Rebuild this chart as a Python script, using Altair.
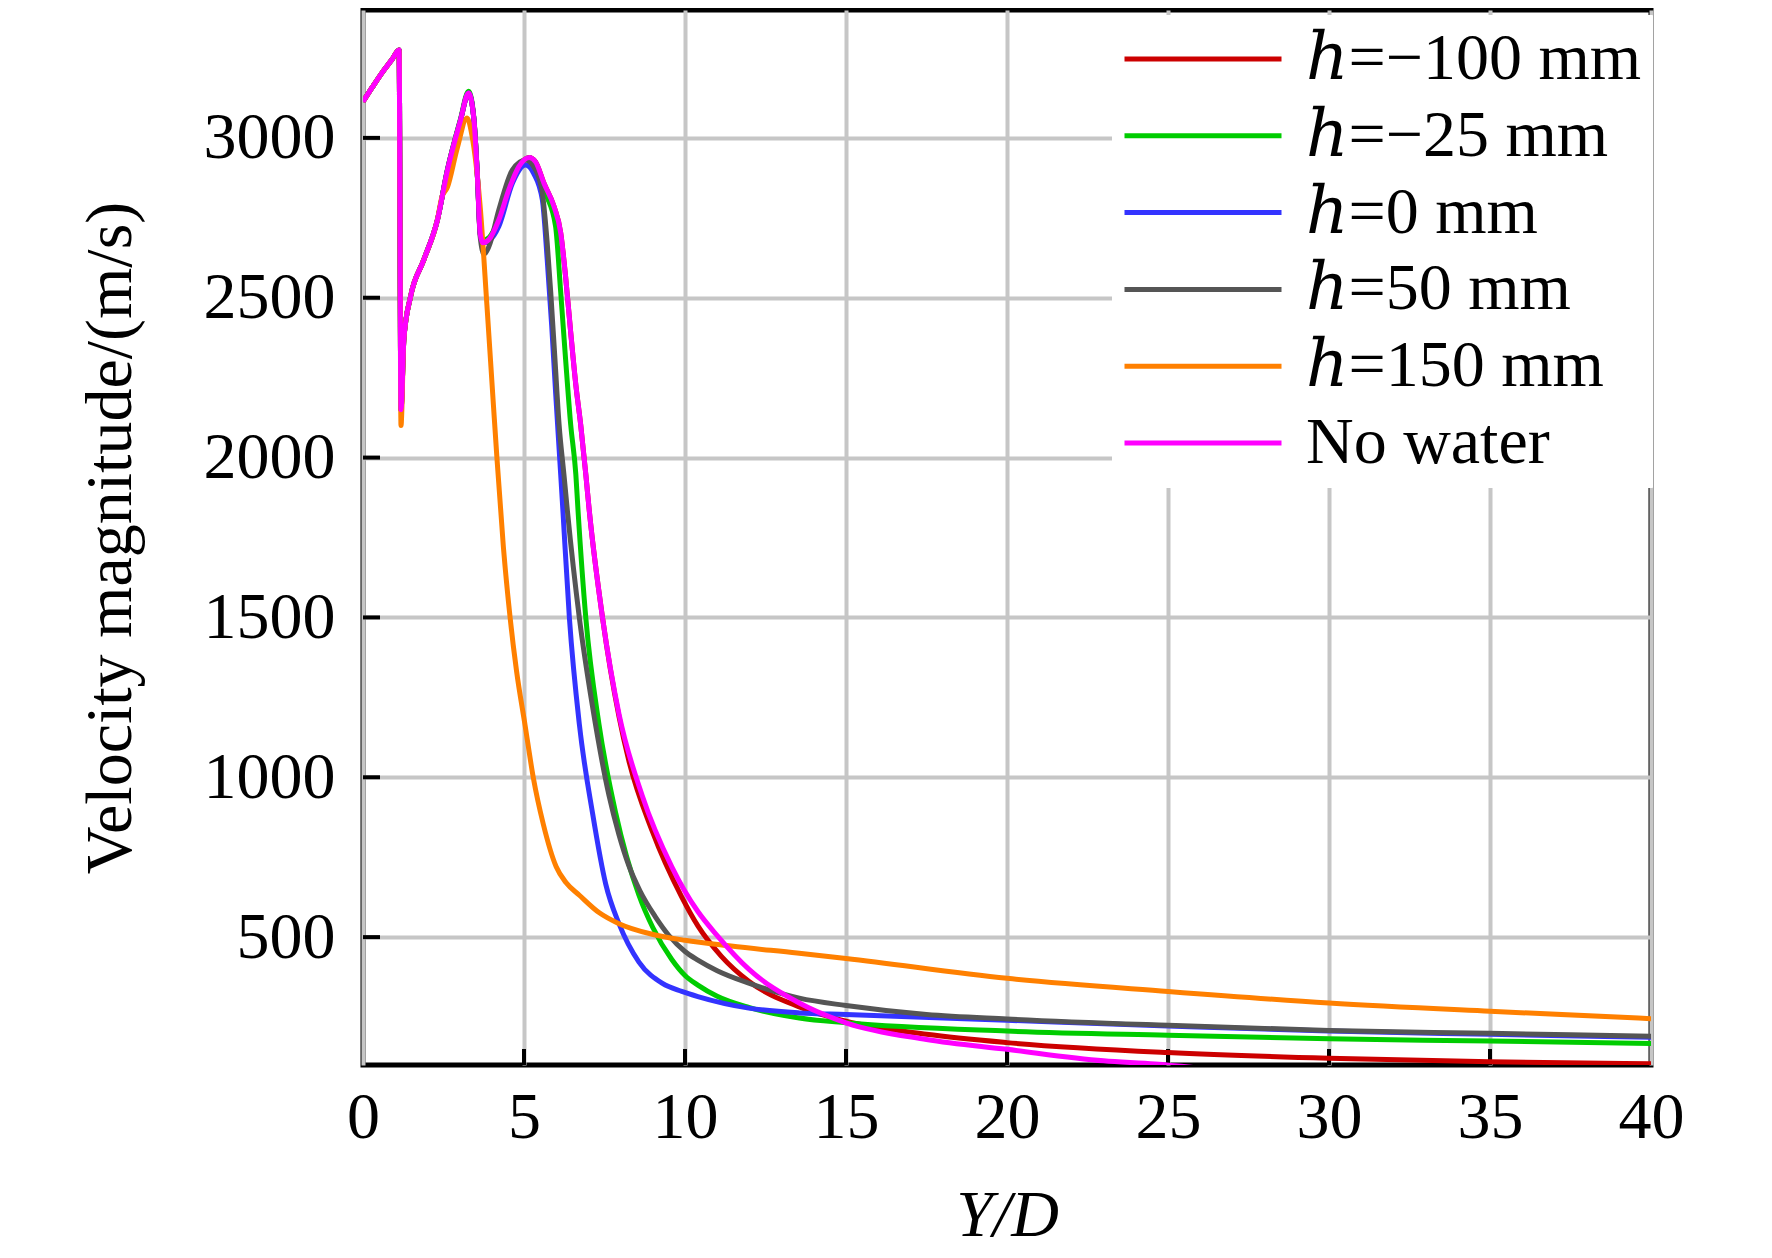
import altair as alt
import pandas as pd

SERIES = ["ℎ=−100 mm", "ℎ=−25 mm", "ℎ=0 mm", "ℎ=50 mm", "ℎ=150 mm", "No water"]
COLORS = ["#cc0000", "#00cc00", "#3333ff", "#555555", "#ff8000", "#ff00ff"]
X_TICKS = [0, 5, 10, 15, 20, 25, 30, 35, 40]
Y_TICKS = [500, 1000, 1500, 2000, 2500, 3000]
TICK_MARKS_X = [5, 10, 15, 20, 25, 30, 35]

# No water
X_NW = [0, 0.3, 0.6, 0.9, 1.12, 1.18, 1.27, 1.48, 1.89, 2.31, 2.62, 3.02, 3.28, 3.44, 3.55,
        3.64, 3.72, 3.91, 4.22, 4.53, 4.84, 5.16, 5.36, 5.62, 5.93, 6.14, 6.29, 6.45, 6.61,
        6.76, 6.92, 7.03, 7.44, 7.95, 8.67, 9.59, 10.4, 11.0, 11.98, 13.55, 15, 17.5, 20,
        23, 24.6, 26]
V_NW = [3113, 3160, 3205, 3245, 3275, 2150, 2372, 2505, 2619, 2743, 2898, 3052, 3140, 3062, 2886,
        2700, 2672, 2682, 2744, 2838, 2910, 2939, 2925, 2858, 2786, 2703, 2568, 2392, 2227,
        2103, 1947, 1831, 1498, 1198, 943, 720, 580, 505, 400, 294, 232, 180, 149,
        113, 103, 90]

# h = -100 mm
X_M100 = [0, 0.3, 0.6, 0.9, 1.12, 1.18, 1.27, 1.48, 1.89, 2.31, 2.62, 3.02, 3.28, 3.44, 3.55,
          3.64, 3.72, 3.91, 4.22, 4.53, 4.84, 5.16, 5.36, 5.62, 5.93, 6.14, 6.29, 6.45, 6.61,
          6.76, 6.92, 7.03, 7.44, 7.95, 8.25, 8.98, 9.9, 10.4, 11.13, 11.98, 13.55, 15, 17.5,
          20, 25, 30, 35, 40]
V_M100 = [3113, 3160, 3205, 3245, 3275, 2150, 2372, 2505, 2619, 2743, 2898, 3052, 3140, 3062, 2886,
          2700, 2672, 2682, 2744, 2838, 2910, 2939, 2925, 2858, 2786, 2703, 2568, 2392, 2227,
          2103, 1947, 1831, 1498, 1190, 1054, 832, 625, 535, 440, 362, 282, 237, 196,
          170, 139, 121, 110, 104]

# h = -25 mm
X_M25 = [0, 0.3, 0.6, 0.9, 1.12, 1.18, 1.27, 1.48, 1.89, 2.31, 2.62, 3.02, 3.28, 3.44, 3.55,
         3.64, 3.72, 3.91, 4.22, 4.53, 4.84, 5.16, 5.36, 5.67, 5.98, 6.14, 6.29, 6.45, 6.61,
         6.68, 6.92, 7.33, 7.85, 8.57, 9.0, 9.59, 10.0, 10.4, 11.0, 11.98, 13.55, 15, 20, 25,
         30, 35, 40]
V_M25 = [3113, 3160, 3205, 3245, 3275, 2150, 2372, 2505, 2619, 2743, 2900, 3056, 3146, 3066, 2890,
         2705, 2680, 2688, 2746, 2838, 2910, 2937, 2922, 2827, 2724, 2517, 2310, 2103, 1947,
         1831, 1498, 1165, 887, 631, 530, 430, 380, 350, 315, 280, 247, 232, 206, 193,
         182, 175, 167]

# h = 0 mm
X_0 = [0, 0.3, 0.6, 0.9, 1.12, 1.18, 1.27, 1.48, 1.89, 2.31, 2.62, 3.02, 3.28, 3.44, 3.55,
       3.64, 3.72, 3.91, 4.22, 4.64, 5.05, 5.3, 5.57, 5.72, 5.86, 5.98, 6.14, 6.21, 6.41,
       6.72, 7.13, 7.54, 7.95, 8.57, 9.3, 9.9, 10.4, 11.98, 13.55, 15, 20, 25, 30, 35, 40]
V_0 = [3113, 3160, 3205, 3245, 3275, 2150, 2372, 2505, 2619, 2743, 2898, 3052, 3140, 3062, 2886,
       2700, 2672, 2678, 2724, 2858, 2915, 2889, 2806, 2620, 2413, 2206, 1947, 1831, 1498,
       1165, 887, 665, 542, 422, 355, 330, 314, 278, 263, 258, 240, 222, 206, 196, 187]

# h = 50 mm
X_50 = [0, 0.3, 0.6, 0.9, 1.12, 1.18, 1.27, 1.48, 1.89, 2.31, 2.62, 3.02, 3.28, 3.44, 3.55,
        3.64, 3.76, 3.91, 4.22, 4.64, 5.05, 5.36, 5.57, 5.72, 5.83, 5.96, 6.09, 6.24, 6.35,
        6.72, 7.13, 7.64, 7.95, 8.25, 8.6, 9.07, 9.5, 10.0, 10.4, 11.0, 11.98, 13.55, 15,
        17.5, 20, 25, 30, 35, 40]
V_50 = [3113, 3160, 3205, 3245, 3275, 2150, 2372, 2505, 2619, 2743, 2898, 3052, 3140, 3062, 2886,
        2690, 2636, 2660, 2775, 2900, 2931, 2900, 2827, 2672, 2517, 2310, 2103, 1947, 1831,
        1498, 1220, 943, 820, 725, 645, 565, 505, 455, 428, 395, 356, 309, 286,
        258, 244, 224, 208, 199, 190]

# h = 150 mm
X_150 = [0, 0.3, 0.6, 0.9, 1.12, 1.18, 1.27, 1.48, 1.89, 2.31, 2.45, 2.62, 2.93, 3.23, 3.38,
         3.64, 3.85, 4.05, 4.16, 4.36, 4.57, 4.77, 5.03, 5.29, 5.6, 6.0, 6.31, 6.72, 7.34,
         7.95, 8.98, 10, 11.43, 13.48, 15, 20, 25, 30, 35, 40]
V_150 = [3113, 3160, 3205, 3245, 3275, 2100, 2372, 2505, 2619, 2743, 2815, 2845, 2969, 3062, 3010,
         2784, 2474, 2165, 1998, 1720, 1498, 1331, 1165, 998, 853, 720, 670, 631, 576,
         542, 509, 490, 472, 450, 433, 371, 330, 294, 268, 245]

XS = [X_M100, X_M25, X_0, X_50, X_150, X_NW]
VS = [V_M100, V_M25, V_0, V_50, V_150, V_NW]

W, H = 1288, 1055
FONT = "Liberation Serif, DejaVu Serif"

xscale = alt.Scale(domain=[0, 40], nice=False, zero=False)
yscale = alt.Scale(domain=[100, 3400], nice=False, zero=False)

xaxis = alt.Axis(values=X_TICKS, title="Y/D", titleFontStyle="italic", titleY=170,
                 titleBaseline="alphabetic", labelPadding=20, ticks=False, tickSize=0,
                 domain=False, grid=True, labelFlush=False, labelOverlap=False, format="d")
yaxis = alt.Axis(values=Y_TICKS, title="Velocity magnitude/(m/s)", titleX=-233,
                 titleBaseline="alphabetic", labelPadding=28, ticks=False, tickSize=0,
                 domain=False, grid=True, labelOverlap=False, format="d")

legend = alt.Legend(title=None, orient="none", legendX=749, legendY=5, fillColor="white",
                    padding=10, symbolType="stroke", symbolSize=24649, symbolStrokeWidth=5,
                    clipHeight=68, rowPadding=8.8, labelFont=FONT, labelFontSize=66,
                    labelColor="black", labelOffset=22, labelLimit=0, strokeColor="white")

layers = []
for name, xs, vs in zip(SERIES, XS, VS):
    df = pd.DataFrame({"x": xs, "v": vs, "series": name})
    layers.append(
        alt.Chart(df).mark_line(interpolate="monotone", strokeWidth=5, clip=True).encode(
            x=alt.X("x:Q", scale=xscale, axis=xaxis),
            y=alt.Y("v:Q", scale=yscale, axis=yaxis),
            color=alt.Color("series:N", scale=alt.Scale(domain=SERIES, range=COLORS),
                            legend=legend, sort=SERIES),
        )
    )

xticks = alt.Chart(pd.DataFrame({"x": TICK_MARKS_X})).mark_rule(color="black", strokeWidth=4).encode(
    x=alt.X("x:Q", scale=xscale, axis=xaxis),
    y=alt.value(H), y2=alt.value(H - 16),
)
yticks = alt.Chart(pd.DataFrame({"v": Y_TICKS})).mark_rule(color="black", strokeWidth=4).encode(
    y=alt.Y("v:Q", scale=yscale, axis=yaxis),
    x=alt.value(0), x2=alt.value(17),
)

chart = alt.layer(xticks, yticks, *layers).properties(
    width=W, height=H,
    autosize=alt.AutoSizeParams(type="none"),
    padding={"left": 355, "top": 2, "right": 113, "bottom": 185},
    background="white",
).configure_view(
    stroke="black", strokeWidth=5
).configure_axis(
    labelFont=FONT, labelFontSize=66, labelColor="black",
    titleFont=FONT, titleFontSize=66, titleFontWeight="normal", titleColor="black",
    gridColor="#c6c6c6", gridWidth=4, gridOpacity=1,
)

chart.save("out.html", embed_options={"renderer": "svg", "actions": False})
